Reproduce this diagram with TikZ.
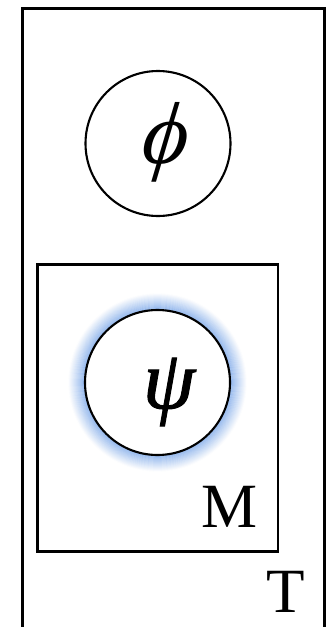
\documentclass[tikz,border=0pt]{standalone}
\usepackage{fontspec}
\setmainfont{Liberation Serif}
\newfontfamily\greekit[FakeBold=1.2]{Liberation Serif Italic}
\newfontfamily\greekitlight[FakeSlant=0.12]{Liberation Serif Italic}
\definecolor{glow}{RGB}{130,172,234}
\begin{document}
\begin{tikzpicture}[x=1pt,y=-1pt,
  frame/.style={draw=black,line width=3.2pt},
  plate/.style={draw=black,line width=2.6pt},
  var/.style={circle,draw=black,line width=2.1pt,minimum size=145pt,inner sep=0pt,fill=white},
  platelabel/.style={inner sep=0pt,font=\fontsize{63}{63}\selectfont}]
\useasboundingbox (0,0) rectangle (326,627);
\begin{scope}
\clip (0,0) rectangle (326,627);
\draw[frame] (22.5,640) -- (22.5,8.5) -- (324.5,8.5) -- (324.5,640);
\end{scope}
\draw[plate] (37.5,264.5) rectangle (278,551.5);
% glow around psi
\foreach \i in {0,...,32}{
  \pgfmathsetmacro{\pc}{88-\i*2.7}
  \draw[line width=0.7pt,draw=glow!\pc!white] (157.5,382.5) circle (73+\i*0.5);
}
\node[var] (phi) at (158,143.5) {};
\node[var] (psi) at (157.5,382.5) {};
\node[inner sep=0pt,font=\fontsize{88}{88}\selectfont\greekitlight] (phit) at (163,142) {ϕ};
\node[inner sep=0pt,font=\fontsize{84}{84}\selectfont\greekit] (psit) at (169,392) {ψ};
\node[platelabel,anchor=base] (M) at (230,527) {M};
\node[platelabel,anchor=base] (T) at (286,612) {T};
\end{tikzpicture}
\end{document}
